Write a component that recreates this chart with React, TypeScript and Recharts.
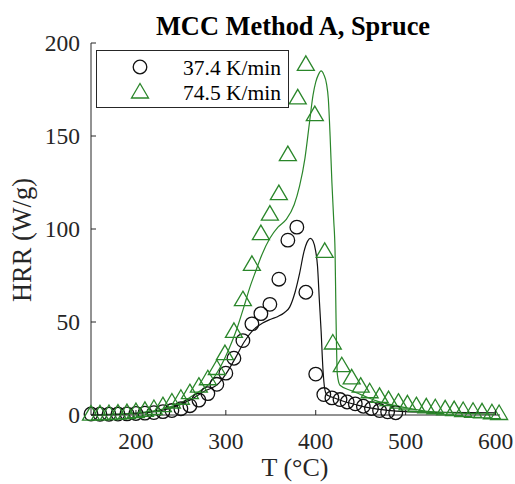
import React from "react";
import { ComposedChart, Legend, Line, Scatter, XAxis, YAxis } from "recharts";

const FONT = '"Liberation Serif", "Times New Roman", serif';
const INK = "#262626";
const BLACK = "#111111";
const GREEN = "#2a862a";

const X_TICKS = [200, 300, 400, 500, 600];
const Y_TICKS = [0, 50, 100, 150, 200];

// 37.4 K/min, measured (circles)
const T_SLOW = [150, 160, 170, 180, 190, 200, 210, 220, 230, 240, 250, 260, 270, 280, 290, 300, 309, 319, 329, 339, 349, 359, 369, 379, 389, 400, 409, 418, 427, 435, 444, 453, 462, 471, 480, 489];
const HRR_SLOW = [0.5, 0.4, 0.4, 0.5, 0.6, 0.8, 1.0, 1.3, 1.8, 2.4, 3.4, 5.0, 8.0, 11.5, 16.5, 22.5, 30.5, 40, 49, 54.5, 59.5, 73, 94, 101, 66, 22, 11, 9.2, 8.3, 7, 6, 4.7, 3.5, 2.4, 1.7, 1.2];

// 37.4 K/min, model
const T_SLOW_MODEL = [150, 180, 200, 220, 240, 260, 275, 292, 300, 311, 320, 330, 341, 350, 358, 365, 371, 377, 382, 387, 391, 394, 397, 400, 402, 404, 406, 408, 410, 412, 416, 420, 430, 445, 460, 480, 500, 540, 600];
const HRR_SLOW_MODEL = [0, 0.3, 0.8, 1.8, 4, 8, 12.5, 17, 22, 31, 39, 45.5, 49.5, 51.5, 53, 55, 58, 66, 76, 88, 93.5, 95, 93.5, 88, 80, 62, 45, 25, 14, 11, 10, 9.3, 7.5, 5.5, 3.8, 2.5, 1.8, 1.4, 1.2];

// 74.5 K/min, measured (triangles)
const T_FAST = [150, 160, 170, 180, 190, 200, 210, 220, 230, 240, 250, 260, 270, 280, 290, 299, 309, 319, 329, 339, 349, 359, 369, 380, 389, 399, 410, 419, 429, 440, 450, 460, 471, 481, 492, 502, 512, 523, 533, 544, 554, 564, 575, 585, 596, 604];
const HRR_FAST = [0.5, 0.6, 0.8, 1.0, 1.3, 1.8, 2.5, 3.5, 5, 7, 9, 12, 15.5, 19.5, 25, 33, 45, 62, 81, 97.5, 108, 119, 140, 170.5, 188.5, 161.5, 88, 38.7, 26.5, 20, 15.5, 12.5, 10, 8.3, 6.9, 6, 5, 4.4, 3.9, 3.3, 2.9, 2.4, 2, 1.7, 1.2, 0.8];

// 74.5 K/min, model
const T_FAST_MODEL = [150, 170, 190, 210, 230, 250, 265, 282, 293, 303, 312, 320, 327, 333, 340, 349, 358, 367, 376, 382, 388, 393, 397, 400, 403, 406, 409, 412, 414, 416, 418, 420, 421.5, 422.5, 424, 427, 440, 453, 470, 489, 510, 527, 560, 600];
const HRR_FAST_MODEL = [0, 0.3, 0.8, 1.6, 3.2, 6.5, 11, 17, 25, 35, 46, 58, 69, 77, 86, 95, 101, 105, 113, 123, 138, 157, 172, 179, 183, 185, 183, 178, 170, 150, 125, 105, 88, 55, 22, 16, 13, 10.4, 7.2, 5, 3, 1.8, 1, 0.5];

const zip = (t: number[], h: number[]) => t.map((T, i) => ({ T, hrr: h[i] }));

const slowPoints = zip(T_SLOW, HRR_SLOW);
const slowModel = zip(T_SLOW_MODEL, HRR_SLOW_MODEL);
const fastPoints = zip(T_FAST, HRR_FAST);
const fastModel = zip(T_FAST_MODEL, HRR_FAST_MODEL);

const LEGEND_ITEMS = [
  { label: "37.4 K/min", marker: "circle", color: BLACK },
  { label: "74.5 K/min", marker: "triangle", color: GREEN },
];

const Y_GAP = 11;
const X_GAP = 17;
const TICK_LEN = 5;

function Marker({ kind, cx, cy, color }: { kind: string; cx: number; cy: number; color: string }) {
  if (kind === "circle") {
    return <circle cx={cx} cy={cy} r={6.8} fill="none" stroke={color} strokeWidth={1.3} />;
  }
  const pts = `${cx},${cy - 8.5} ${cx + 8.5},${cy + 6} ${cx - 8.5},${cy + 6}`;
  return <polygon points={pts} fill="none" stroke={color} strokeWidth={1.3} />;
}

function YTick({ x, y, payload }: any) {
  const axisX = x + Y_GAP;
  return (
    <g>
      <line x1={axisX} x2={axisX + TICK_LEN} y1={y} y2={y} stroke={INK} />
      <text x={x} y={y} dy="0.35em" textAnchor="end" style={{ fontFamily: FONT, fontSize: 23.5 }} fill={INK}>
        {payload.value}
      </text>
    </g>
  );
}

function XTick({ x, y, payload }: any) {
  const axisY = y - X_GAP;
  return (
    <g>
      <line x1={x} x2={x} y1={axisY} y2={axisY - TICK_LEN} stroke={INK} />
      <text x={x} y={y} dy="0.71em" textAnchor="middle" style={{ fontFamily: FONT, fontSize: 23.5 }} fill={INK}>
        {payload.value}
      </text>
    </g>
  );
}

function LegendBox() {
  return (
    <div
      style={{
        width: 193,
        height: 58,
        boxSizing: "border-box",
        border: `1px solid ${INK}`,
        background: "#fff",
      }}
    >
      <svg width={191} height={56} style={{ display: "block" }}>
        {LEGEND_ITEMS.map((item, i) => (
          <g key={item.label}>
            <Marker kind={item.marker} cx={43} cy={16 + i * 25} color={item.color} />
            <text x={86} y={16 + i * 25} dy="0.35em" style={{ fontFamily: FONT, fontSize: 21.5 }} fill="#000">
              {item.label}
            </text>
          </g>
        ))}
      </svg>
    </div>
  );
}

export default function App() {
  return (
    <div style={{ position: "absolute", left: 0, top: 0, width: 515, height: 484, background: "#fff" }}>
      <ComposedChart width={515} height={484} margin={{ top: 43, right: 15, bottom: 0, left: 0 }}>
        <XAxis
          type="number"
          dataKey="T"
          domain={[150, 605]}
          ticks={X_TICKS}
          height={69}
          tickSize={0}
          tickMargin={X_GAP}
          tick={<XTick />}
          axisLine={{ stroke: INK }}
          tickLine={false}
        />
        <YAxis
          type="number"
          dataKey="hrr"
          domain={[0, 200]}
          ticks={Y_TICKS}
          width={91}
          tickSize={0}
          tickMargin={Y_GAP}
          tick={<YTick />}
          axisLine={{ stroke: INK }}
          tickLine={false}
        />
        <Legend
          layout="horizontal"
          verticalAlign="middle"
          align="center"
          content={() => <LegendBox />}
          wrapperStyle={{ left: 96, top: 50, width: 193, height: 58 }}
        />
        <Line
          data={slowModel}
          dataKey="hrr"
          type="monotone"
          stroke={BLACK}
          strokeWidth={1.2}
          dot={false}
          isAnimationActive={false}
        />
        <Line
          data={fastModel}
          dataKey="hrr"
          type="monotone"
          stroke={GREEN}
          strokeWidth={1.2}
          dot={false}
          isAnimationActive={false}
        />
        <Scatter
          data={slowPoints}
          dataKey="hrr"
          isAnimationActive={false}
          shape={(p: any) => <Marker kind="circle" cx={p.cx} cy={p.cy} color={BLACK} />}
        />
        <Scatter
          data={fastPoints}
          dataKey="hrr"
          isAnimationActive={false}
          shape={(p: any) => <Marker kind="triangle" cx={p.cx} cy={p.cy} color={GREEN} />}
        />
      </ComposedChart>
      <svg
        width={515}
        height={484}
        style={{ position: "absolute", left: 0, top: 0, pointerEvents: "none" }}
      >
        <text x={293} y={35} textAnchor="middle" style={{ fontFamily: FONT, fontSize: 26.4, fontWeight: "bold" }} fill="#000">
          MCC Method A, Spruce
        </text>
        <text x={295} y={476} textAnchor="middle" style={{ fontFamily: FONT, fontSize: 26 }} fill={INK}>
          T (°C)
        </text>
        <text
          x={31}
          y={240}
          textAnchor="middle"
          transform="rotate(-90 31 240)"
          style={{ fontFamily: FONT, fontSize: 26.4 }}
          fill={INK}
        >
          HRR (W/g)
        </text>
      </svg>
    </div>
  );
}
